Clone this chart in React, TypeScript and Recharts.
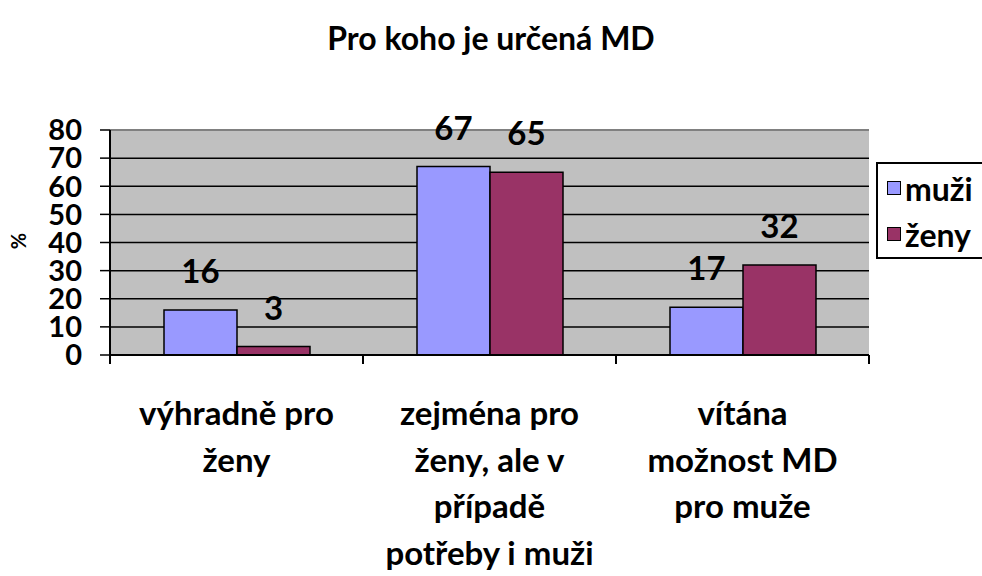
import { Bar, BarChart, CartesianGrid, LabelList, ReferenceLine, XAxis, YAxis } from "recharts";

const categories = ["výhradně pro ženy", "zejména pro ženy, ale v případě potřeby i muži", "vítána možnost MD pro muže"];
const categoryLines = [
	["výhradně pro", "ženy"],
	["zejména pro", "ženy, ale v", "případě", "potřeby i muži"],
	["vítána", "možnost MD", "pro muže"],
];
const muzi = [16, 67, 17];
const zeny = [3, 65, 32];
const yTicks = [0, 10, 20, 30, 40, 50, 60, 70, 80];

const data = categories.map((name, i) => ({ name, muzi: muzi[i], zeny: zeny[i] }));

const FONT = "Lato, 'Open Sans', sans-serif";
const COLORS = { muzi: "#9999ff", zeny: "#993366" };
const legendItems = [
	{ label: "muži", color: COLORS.muzi },
	{ label: "ženy", color: COLORS.zeny },
];

// category labels, with tick marks on the band edges (Excel style)
const CategoryTick = (props: any) => {
	const { x, y, payload } = props;
	const half = Number(payload.offset) || 0;
	const lines = categoryLines[payload.index] ?? [payload.value];
	const isLast = payload.index === categories.length - 1;
	return (
		<g>
			<line x1={x - half} x2={x - half} y1={y} y2={y + 9} stroke="#000" strokeWidth={2} />
			{isLast && <line x1={x + half} x2={x + half} y1={y} y2={y + 9} stroke="#000" strokeWidth={2} />}
			{lines.map((line: string, i: number) => (
				<text
					key={i}
					x={x}
					y={y + 70 + i * 46.7}
					textAnchor="middle"
					style={{ fontFamily: FONT, fontWeight: 700, fontSize: 33, fill: "#000" }}>
					{line}
				</text>
			))}
		</g>
	);
};

const renderValue = (props: any) => {
	const { x, y, width, value } = props;
	return (
		<text
			x={Number(x) + Number(width) / 2}
			y={Number(y) - 40}
			textAnchor="middle"
			dominantBaseline="central"
			style={{ fontFamily: FONT, fontWeight: 700, fontSize: 33, fill: "#000" }}>
			{value}
		</text>
	);
};

const renderPercent = () => (
	<text
		x={18}
		y={241}
		transform="rotate(-90 18 241)"
		textAnchor="middle"
		dominantBaseline="central"
		style={{ fontFamily: FONT, fontWeight: 700, fontSize: 20, fill: "#000" }}>
		%
	</text>
);

export default function App() {
	return (
		<div style={{ position: "absolute", left: 0, top: 0, width: 982, height: 576, background: "#fff", overflow: "hidden" }}>
			<div
				style={{
					position: "absolute",
					left: 0,
					top: 18,
					width: 982,
					textAlign: "center",
					fontFamily: FONT,
					fontWeight: 700,
					fontSize: 32,
					lineHeight: "40px",
				}}>
				Pro koho je určená MD
			</div>
			<BarChart
				width={982}
				height={576}
				data={data}
				margin={{ top: 130, right: 113, left: 0, bottom: 0 }}
				barCategoryGap={54}
				barGap={0}>
				<CartesianGrid
					xAxisId="cat"
					yAxisId="left"
					vertical={false}
					stroke="#000"
					strokeWidth={1.5}
					fill="#c0c0c0"
					fillOpacity={1}
				/>
				<XAxis
					xAxisId="cat"
					dataKey="name"
					height={221}
					axisLine={{ stroke: "#000", strokeWidth: 2 }}
					tickLine={false}
					tickSize={0}
					tickMargin={0}
					interval={0}
					tick={<CategoryTick />}
				/>
				<YAxis
					yAxisId="left"
					width={110}
					domain={[0, 80]}
					ticks={yTicks}
					interval={0}
					tickSize={10}
					tickMargin={18}
					axisLine={{ stroke: "#000", strokeWidth: 2 }}
					tickLine={{ stroke: "#000", strokeWidth: 1.5 }}
					tick={{ fontFamily: FONT, fontWeight: 700, fontSize: 29, fill: "#000" }}
					label={{ value: "%", content: renderPercent }}
				/>
				<YAxis
					yAxisId="right"
					orientation="right"
					width={0}
					domain={[0, 80]}
					tick={false}
					tickLine={false}
					axisLine={{ stroke: "#808080", strokeWidth: 2 }}
				/>
				<ReferenceLine xAxisId="cat" yAxisId="left" y={80} stroke="#808080" strokeWidth={2} />
				<Bar
					xAxisId="cat"
					yAxisId="left"
					dataKey="muzi"
					name="muži"
					fill={COLORS.muzi}
					stroke="#000"
					strokeWidth={1.5}
					isAnimationActive={false}>
					<LabelList dataKey="muzi" content={renderValue} />
				</Bar>
				<Bar
					xAxisId="cat"
					yAxisId="left"
					dataKey="zeny"
					name="ženy"
					fill={COLORS.zeny}
					stroke="#000"
					strokeWidth={1.5}
					isAnimationActive={false}>
					<LabelList dataKey="zeny" content={renderValue} />
				</Bar>
			</BarChart>
			<div
				style={{
					position: "absolute",
					left: 876,
					top: 162,
					width: 120,
					height: 97,
					border: "2px solid #000",
					background: "#fff",
					boxSizing: "border-box",
					fontFamily: FONT,
					fontWeight: 700,
					fontSize: 32,
					paddingLeft: 9,
					paddingTop: 1,
				}}>
				{legendItems.map((item) => (
					<div key={item.label} style={{ display: "flex", alignItems: "center", height: 46 }}>
						<span
							style={{
								display: "inline-block",
								width: 12,
								height: 12,
								background: item.color,
								border: "1.5px solid #000",
								marginRight: 4,
							}}
						/>
						<span>{item.label}</span>
					</div>
				))}
			</div>
		</div>
	);
}
